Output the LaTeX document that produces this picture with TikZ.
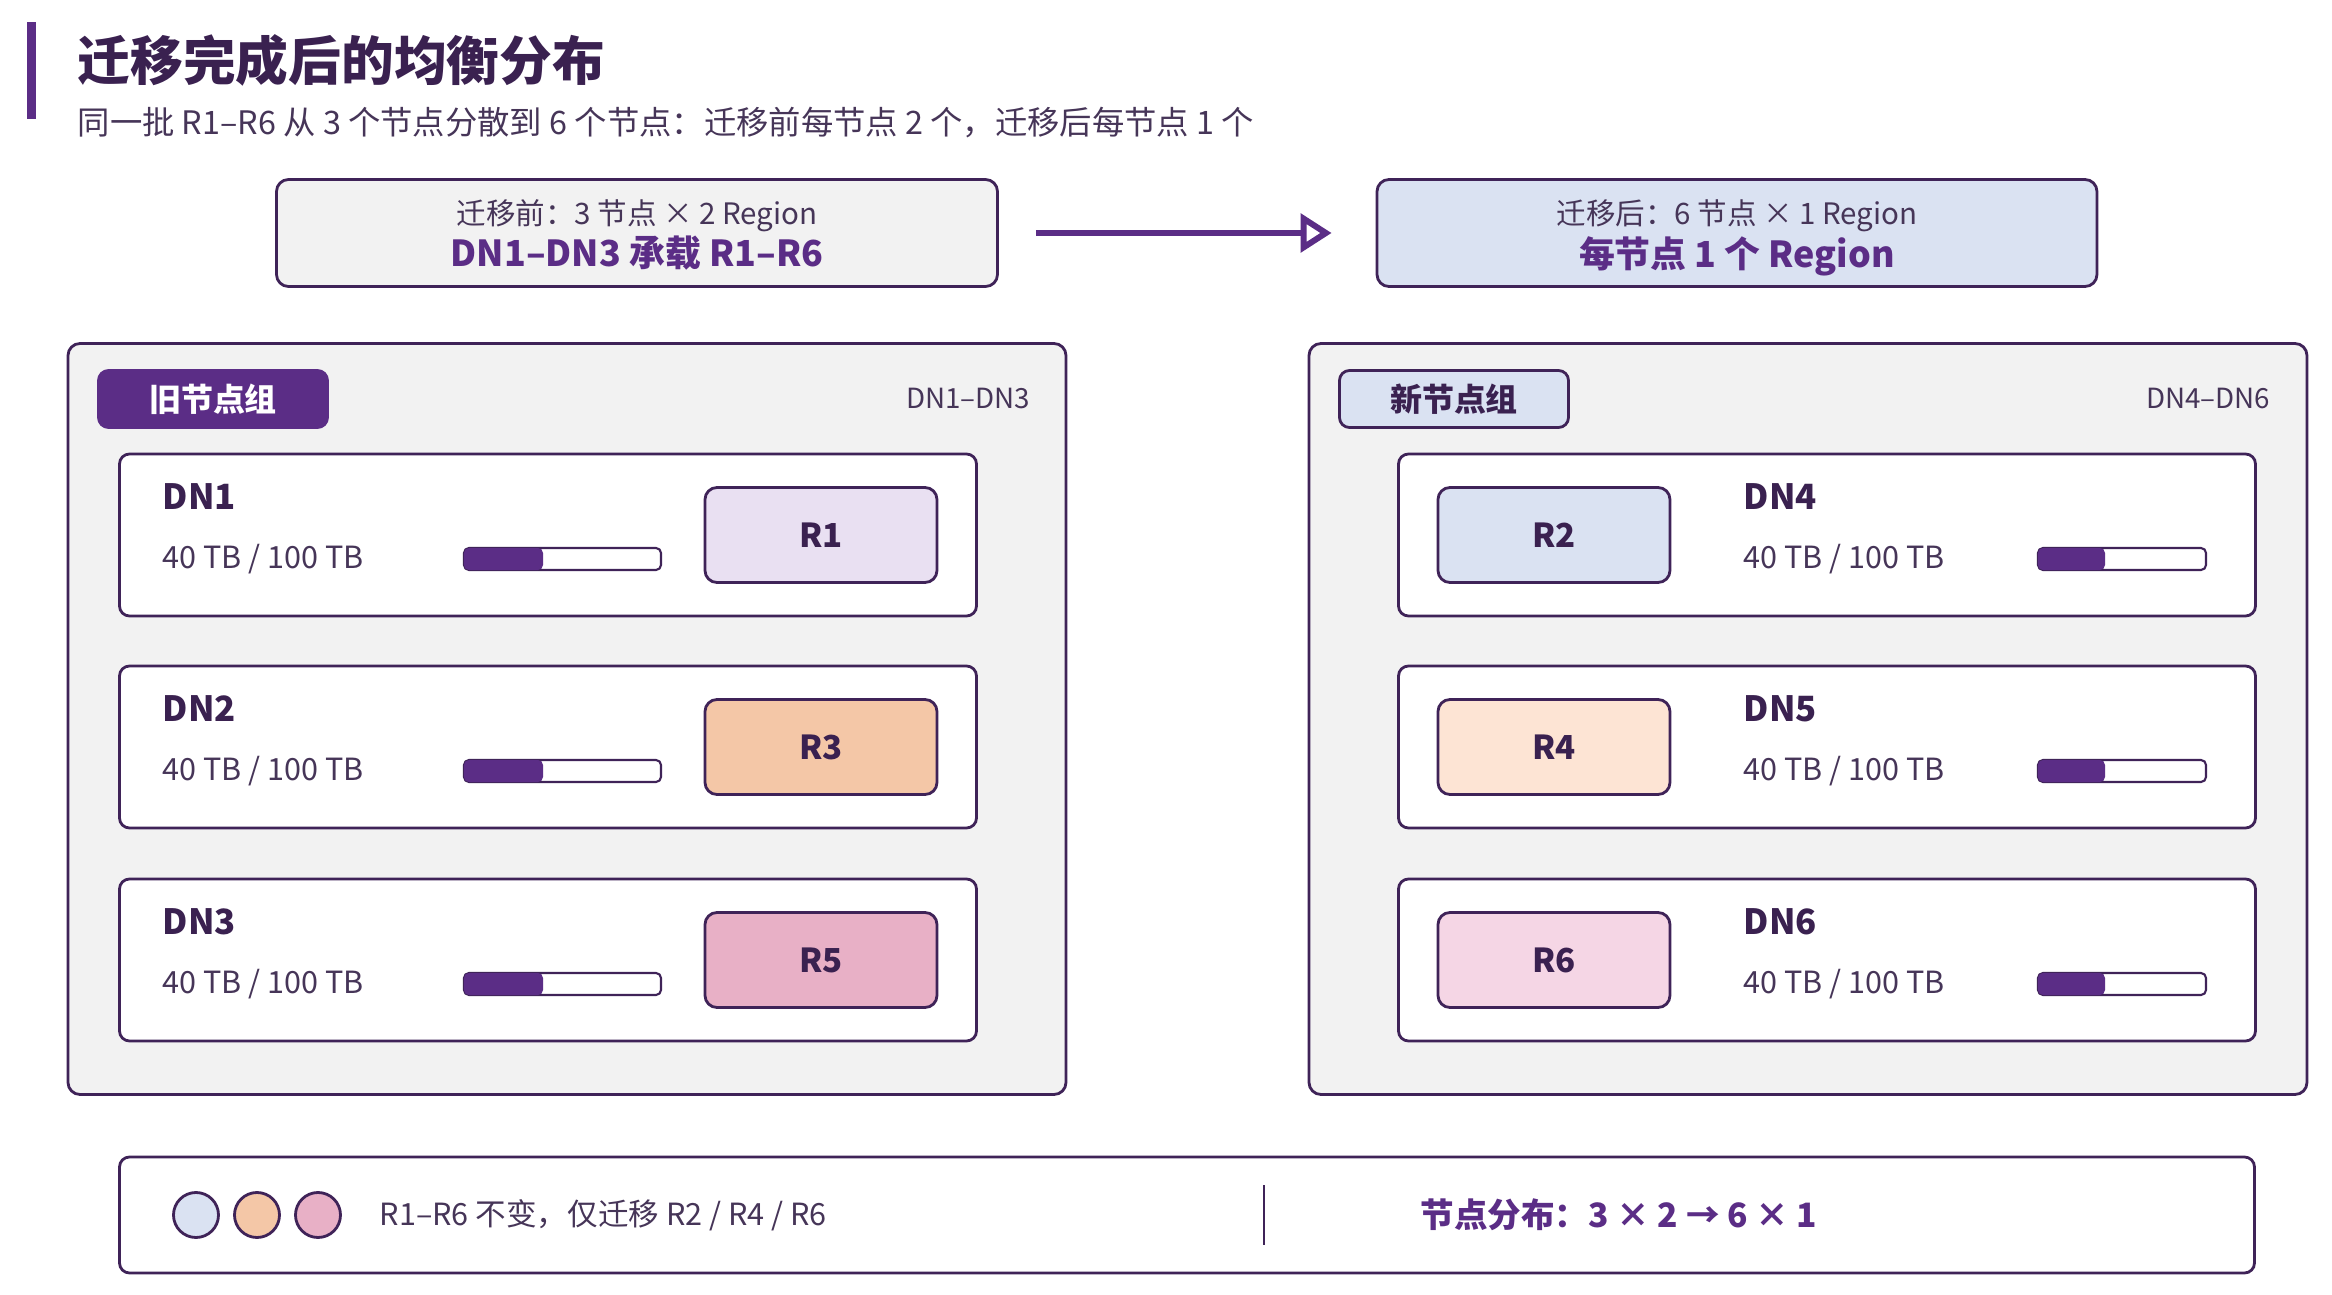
\documentclass[tikz,border=0pt]{standalone}
\usepackage{fontspec}
\setmainfont{Noto Sans CJK SC}
\usetikzlibrary{arrows.meta}

\definecolor{edge}{HTML}{3F2358}
\definecolor{accent}{HTML}{5B2D86}
\definecolor{ink}{HTML}{3A2150}
\definecolor{subink}{HTML}{463558}
\definecolor{grpbg}{HTML}{F2F2F2}
\definecolor{rone}{HTML}{E9E0F2}
\definecolor{rtwo}{HTML}{DAE2F2}
\definecolor{rthree}{HTML}{F4C7A7}
\definecolor{rfour}{HTML}{FDE4D4}
\definecolor{rfive}{HTML}{E8B0C6}
\definecolor{rsix}{HTML}{F5D6E5}

\newcommand{\fs}[1]{\fontsize{#1}{#1}\selectfont}

\begin{document}
\begin{tikzpicture}[x=0.1mm, y=-0.1mm,
	box/.style={draw=edge, line width=0.8pt, rounded corners=1.2mm, inner sep=0pt},
	card/.style={box, fill=white, minimum width=85.7mm, minimum height=16.2mm, rounded corners=1mm},
	region/.style={box, minimum width=23.2mm, minimum height=9.5mm, font=\fs{9.4pt}\bfseries, text=ink},
	pill/.style={box, minimum width=22.9mm, minimum height=5.7mm, rounded corners=1mm, font=\fs{9.1pt}\bfseries},
	note/.style={font=\fs{8.4pt}, text=subink},
	headline/.style={font=\fs{10.2pt}\bfseries, text=accent},
	spanlabel/.style={font=\fs{7.9pt}, text=subink, anchor=east, inner sep=0pt},
	dnname/.style={font=\fs{9.9pt}\bfseries, text=ink, anchor=west, inner sep=0pt},
	usage/.style={font=\fs{8.7pt}, text=subink, anchor=west, inner sep=0pt},
	barframe/.style={draw=edge, fill=white, line width=0.6pt, rounded corners=0.5mm},
	dot/.style={circle, draw=edge, line width=0.8pt, minimum size=4.5mm, inner sep=0pt},
	flow/.style={draw=accent, line width=1.7pt, -{Triangle[open, length=8.8pt, width=10.8pt]},
		shorten <=3.7mm, shorten >=4.4mm}]
	\useasboundingbox (0,0) rectangle (2332,1295);

	% heading
	\fill[accent] (27,22) rectangle (36,119);
	\node[anchor=west, inner sep=0pt, font=\fs{15pt}\bfseries, text=ink] (title) at (77,60) {迁移完成后的均衡分布};
	\node[anchor=west, inner sep=0pt, font=\fs{9.2pt}, text=subink] (subtitle) at (77,123) {同一批 R1–R6 从 3 个节点分散到 6 个节点：迁移前每节点 2 个，迁移后每节点 1 个};

	% before / after summary
	\node[box, fill=grpbg, minimum width=72.1mm, minimum height=10.7mm] (before) at (637,233) {};
	\node[note] (beforeTop) at (637,216) {迁移前：3 节点 × 2 Region};
	\node[headline] (beforeMain) at (637,253) {DN1–DN3 承载 R1–R6};
	\node[box, fill=rtwo, minimum width=72.0mm, minimum height=10.7mm] (after) at (1737,233) {};
	\node[note] (afterTop) at (1737,216) {迁移后：6 节点 × 1 Region};
	\node[headline] (afterMain) at (1737,256) {每节点 1 个 Region};
	\draw[flow] (before) -- (after);

	% old node group
	\node[box, fill=grpbg, minimum width=99.8mm, minimum height=75.1mm] (oldgrp) at (567,719) {};
	\node[pill, fill=accent, draw=accent, text=white] (oldtag) at (213,399) {旧节点组};
	\node[spanlabel] (oldrange) at (1031,399) {DN1–DN3};

	\node[card] (dn1) at (548,535) {};
	\node[dnname] (dn1name) at (162,497) {DN1};
	\node[usage] (dn1use) at (162,559) {40 TB / 100 TB};
	\draw[barframe] (464,548) rectangle (661,570);
	\fill[accent, rounded corners=0.5mm] (464,548) rectangle (543,570);
	\node[region, fill=rone] (r1) at (821,535) {R1};

	\node[card] (dn2) at (548,747) {};
	\node[dnname] (dn2name) at (162,709) {DN2};
	\node[usage] (dn2use) at (162,771) {40 TB / 100 TB};
	\draw[barframe] (464,760) rectangle (661,782);
	\fill[accent, rounded corners=0.5mm] (464,760) rectangle (543,782);
	\node[region, fill=rthree] (r3) at (821,747) {R3};

	\node[card] (dn3) at (548,960) {};
	\node[dnname] (dn3name) at (162,922) {DN3};
	\node[usage] (dn3use) at (162,984) {40 TB / 100 TB};
	\draw[barframe] (464,973) rectangle (661,995);
	\fill[accent, rounded corners=0.5mm] (464,973) rectangle (543,995);
	\node[region, fill=rfive] (r5) at (821,960) {R5};

	% new node group
	\node[box, fill=grpbg, minimum width=99.8mm, minimum height=75.1mm] (newgrp) at (1808,719) {};
	\node[pill, fill=rtwo, text=ink] (newtag) at (1454,399) {新节点组};
	\node[spanlabel] (newrange) at (2271,399) {DN4–DN6};

	\node[card] (dn4) at (1827,535) {};
	\node[dnname] (dn4name) at (1743,497) {DN4};
	\node[usage] (dn4use) at (1743,559) {40 TB / 100 TB};
	\draw[barframe] (2038,548) rectangle (2206,570);
	\fill[accent, rounded corners=0.5mm] (2038,548) rectangle (2105,570);
	\node[region, fill=rtwo] (r2) at (1554,535) {R2};

	\node[card] (dn5) at (1827,747) {};
	\node[dnname] (dn5name) at (1743,709) {DN5};
	\node[usage] (dn5use) at (1743,771) {40 TB / 100 TB};
	\draw[barframe] (2038,760) rectangle (2206,782);
	\fill[accent, rounded corners=0.5mm] (2038,760) rectangle (2105,782);
	\node[region, fill=rfour] (r4) at (1554,747) {R4};

	\node[card] (dn6) at (1827,960) {};
	\node[dnname] (dn6name) at (1743,922) {DN6};
	\node[usage] (dn6use) at (1743,984) {40 TB / 100 TB};
	\draw[barframe] (2038,973) rectangle (2206,995);
	\fill[accent, rounded corners=0.5mm] (2038,973) rectangle (2105,995);
	\node[region, fill=rsix] (r6) at (1554,960) {R6};

	% legend strip
	\node[box, fill=white, minimum width=213.5mm, minimum height=11.6mm, rounded corners=1mm] (legend) at (1187,1215) {};
	\node[dot, fill=rtwo] (dotA) at (196,1215) {};
	\node[dot, fill=rthree] (dotB) at (257,1215) {};
	\node[dot, fill=rfive] (dotC) at (318,1215) {};
	\node[anchor=west, inner sep=0pt, font=\fs{8.7pt}, text=subink] (keep) at (379,1215) {R1–R6 不变，仅迁移 R2 / R4 / R6};
	\draw[edge, line width=0.6pt] (1264,1185) -- (1264,1245);
	\node[anchor=west, inner sep=0pt, font=\fs{9.55pt}\bfseries, text=accent] (spread) at (1420,1215) {节点分布：3 × 2 → 6 × 1};
\end{tikzpicture}
\end{document}
